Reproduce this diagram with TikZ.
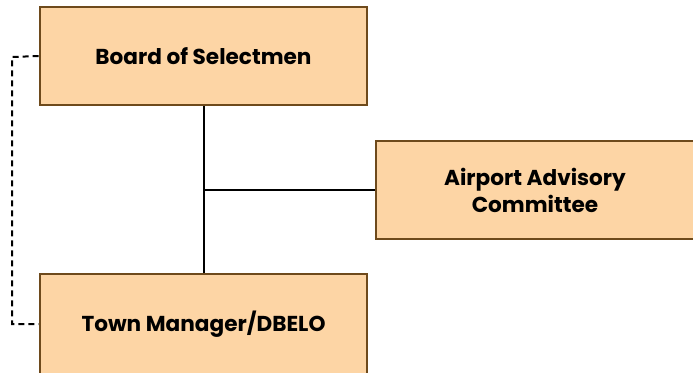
\documentclass[tikz,border=0pt]{standalone}
\usepackage{fontspec}
\setmainfont{Poppins}
\definecolor{boxfill}{HTML}{FDD5A5}
\definecolor{boxline}{HTML}{6E4A1C}
\begin{document}
\begin{tikzpicture}[x=1pt,y=-1pt,
  orgbox/.style={draw=boxline, fill=boxfill, line width=2.6pt, align=center,
    font=\fontsize{21.6}{27}\selectfont\bfseries, inner sep=0pt},
  conn/.style={line width=2.2pt, black},
  dashconn/.style={line width=2pt, black, dash pattern=on 6pt off 4pt}]
\useasboundingbox (0,0) rectangle (693,372);
\node[orgbox, minimum width=327pt, minimum height=98pt] (bos) at (203.5,56) {Board of Selectmen};
\node[orgbox, minimum width=318pt, minimum height=98pt] (aac) at (535,190) {Airport Advisory\\Committee};
\node[orgbox, minimum width=327pt, minimum height=100pt] (tm) at (203.5,324) {Town Manager/DBELO};
\draw[conn] (bos.south -| 204,0) -- (tm.north -| 204,0);
\coordinate (j) at (204,190);
\draw[conn] (j) -- (aac.west);
\coordinate (d1) at (12,57);
\coordinate (d2) at (12,324);
\draw[dashconn] (bos.west) -- (d1) -- (d2) -- (tm.west);
\end{tikzpicture}
\end{document}
